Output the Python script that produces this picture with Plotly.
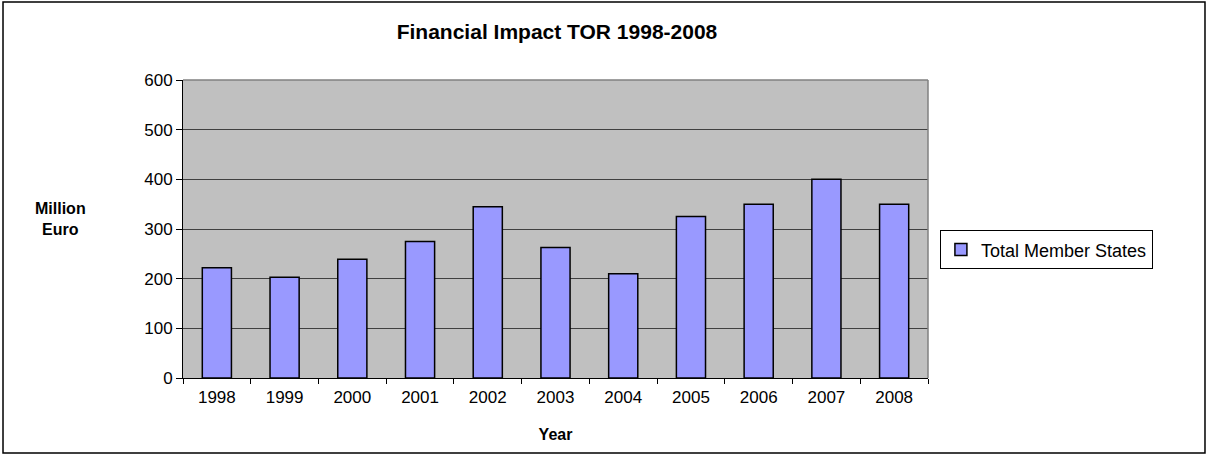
import plotly.graph_objects as go

# values (million euro)
years = ["1998", "1999", "2000", "2001", "2002", "2003",
         "2004", "2005", "2006", "2007", "2008"]
total_member_states = [222, 203, 239, 275, 345, 263, 210, 325, 350, 400, 350]
y_ticks = [0, 100, 200, 300, 400, 500, 600]

font_family = "Liberation Sans, Arial, sans-serif"

fig = go.Figure()
fig.add_trace(go.Bar(
    x=years,
    y=total_member_states,
    name="Total Member States",
    marker=dict(color="#9999FF", line=dict(color="#000000", width=1.5)),
))

fig.update_layout(
    width=1208,
    height=455,
    margin=dict(l=183, r=280, t=80, b=77),
    paper_bgcolor="white",
    plot_bgcolor="#C0C0C0",
    font=dict(family=font_family, size=17, color="black"),
    bargap=0.57,
    showlegend=True,
    title=dict(
        text="<b>Financial Impact TOR 1998-2008</b>",
        x=0.502, xanchor="center", xref="paper",
        y=0.93, yanchor="middle",
        font=dict(size=21),
    ),
    legend=dict(
        x=1.016, xanchor="left",
        y=0.43, yanchor="middle",
        bordercolor="#000000", borderwidth=1,
        bgcolor="white",
        font=dict(size=18),
        itemwidth=30,
    ),
)

fig.update_xaxes(
    type="category",
    showline=True, linecolor="black", linewidth=1,
    ticks="outside", tickson="boundaries", ticklen=5, tickcolor="black",
    tickfont=dict(size=17),
    ticklabelstandoff=4,
    showgrid=False,
    title=dict(text="<b>Year</b>", font=dict(size=16), standoff=22),
)

fig.update_yaxes(
    range=[0, 600],
    tickvals=y_ticks,
    showline=True, linecolor="black", linewidth=1,
    ticks="outside", ticklen=6, tickcolor="black",
    tickfont=dict(size=17),
    showgrid=True, gridcolor="#404040", gridwidth=1,
    zeroline=False,
)

# y-axis title, horizontal like the original
fig.add_annotation(
    text="<b>Million<br>Euro</b>",
    xref="paper", yref="paper",
    x=-0.165, y=0.535, xanchor="center", yanchor="middle",
    showarrow=False, font=dict(size=16), align="center",
)

# gray frame on top and right of the plot area
fig.add_shape(type="line", xref="paper", yref="paper",
              x0=0, x1=1, y0=1, y1=1, line=dict(color="#808080", width=1.5))
fig.add_shape(type="line", xref="paper", yref="paper",
              x0=1, x1=1, y0=0, y1=1, line=dict(color="#808080", width=1.5))

# outer chart border
fig.add_shape(type="rect", xref="paper", yref="paper",
              x0=-0.2416, x1=1.3718, y0=-0.2517, y1=1.2617,
              line=dict(color="#000000", width=1.5), layer="below")

# page has a default body margin; drop it so the chart sits at 0,0
fig.write_html("out.html", config={"displayModeBar": False},
               post_script="document.body.style.margin='0';")
